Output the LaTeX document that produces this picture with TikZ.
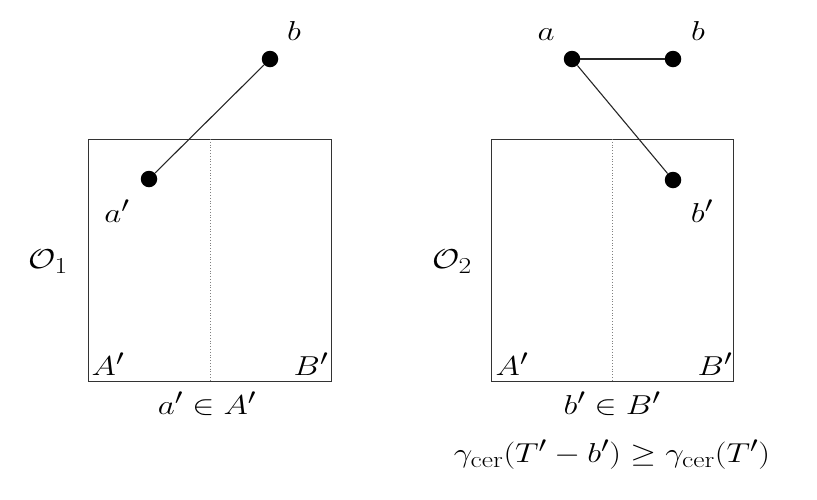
\documentclass[tikz,border=0pt]{standalone}
\begin{document}
\begin{tikzpicture}[x=1pt,y=-1pt,
  dot/.style={circle,fill=black,inner sep=0pt,minimum size=16.5pt},
  lbl/.style={inner sep=0pt,font=\Huge,xscale=1.33,yscale=1.1},
  boxline/.style={line width=1pt,draw=black!80},
  seg/.style={line width=1.1pt,draw=black!85},
  divider/.style={dotted,line width=0.8pt,draw=black!50}]
\useasboundingbox (0,0) rectangle (817,499);
% left square
\draw[boxline] (88,139) rectangle (331,381);
\coordinate (lt) at (210,139);
\coordinate (lb) at (210,381);
\draw[divider] (lt) -- (lb);
\node[dot] (bL) at (270,59) {};
\node[dot] (apL) at (149,179) {};
\draw[seg] (bL) -- (apL);
\node[lbl] (tbL) at (294,31) {$b$};
\node[lbl] (tapL) at (117,211) {$a'$};
\node[lbl] (tO1) at (48,262) {$\mathcal{O}_1$};
\node[lbl] (tAL) at (108,364) {$A'$};
\node[lbl] (tBL) at (311,364) {$B'$};
\node[lbl] (tcL) at (207,404) {$a'\in A'$};
% right square
\draw[boxline] (491,139) rectangle (733,381);
\coordinate (rt) at (612,139);
\coordinate (rb) at (612,381);
\draw[divider] (rt) -- (rb);
\node[dot] (aR) at (572,59) {};
\node[dot] (bR) at (673,59) {};
\node[dot] (bpR) at (673,180) {};
\draw[seg] (aR) -- (bR);
\draw[seg] (aR) -- (bpR);
\node[lbl] (taR) at (546,35) {$a$};
\node[lbl] (tbR) at (698,31) {$b$};
\node[lbl] (tbpR) at (702,211) {$b'$};
\node[lbl] (tO2) at (452,262) {$\mathcal{O}_2$};
\node[lbl] (tAR) at (512,364) {$A'$};
\node[lbl] (tBR) at (715,364) {$B'$};
\node[lbl] (tcR) at (612,404) {$b'\in B'$};
\node[lbl] (tg) at (612,455) {$\gamma_{\mathrm{cer}}(T'-b')\geq\gamma_{\mathrm{cer}}(T')$};
\end{tikzpicture}
\end{document}
